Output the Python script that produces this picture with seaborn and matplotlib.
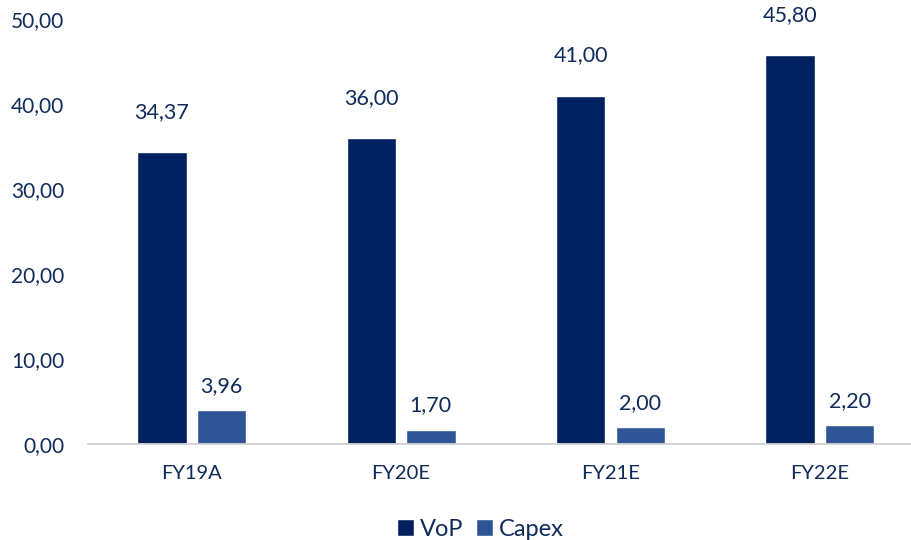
import matplotlib
matplotlib.use("Agg")
import matplotlib.pyplot as plt
import seaborn as sns
import pandas as pd

categories = ["FY19A", "FY20E", "FY21E", "FY22E"]
vop = [34.37, 36.00, 41.00, 45.80]
capex = [3.96, 1.70, 2.00, 2.20]
series_names = ["VoP", "Capex"]
yticks = [0, 10, 20, 30, 40, 50]

df = pd.DataFrame({
    "cat": categories * 2,
    "series": [series_names[0]] * 4 + [series_names[1]] * 4,
    "value": vop + capex,
})

sns.set_theme(style="white")
plt.rcParams["font.family"] = ["Lato", "DejaVu Sans"]
txt = "#0f2b5b"
colors = {"VoP": "#002060", "Capex": "#2f5597"}

fig = plt.figure(figsize=(9.12, 5.4), dpi=100)
ax = fig.add_axes([88/912, 96/540, (912-88)/912, (444-19)/540])
sns.barplot(data=df, x="cat", y="value", hue="series", palette=colors,
            width=0.569, gap=0.17, ax=ax, legend=True, saturation=1)

ax.set_ylim(0, 50)
ax.set_xlim(-0.495, 3.44)
ax.set_yticks(yticks)
ax.set_yticklabels([f"{v:.2f}".replace(".", ",") for v in yticks], fontsize=15, color=txt)
ax.set_xticklabels(categories, fontsize=14.5, color=txt)
ax.tick_params(axis="y", length=0, pad=17)
ax.tick_params(axis="x", length=0, pad=15)
ax.set_xlabel("")
ax.set_ylabel("")
for s in ["top", "right", "left"]:
    ax.spines[s].set_visible(False)
ax.spines["bottom"].set_color("#d0d0d0")
ax.spines["bottom"].set_linewidth(1.3)

offsets = {"VoP": 40, "Capex": 24}
for cont, name in zip(ax.containers, series_names):
    for bar in cont:
        h = bar.get_height()
        ax.annotate(f"{h:.2f}".replace(".", ","),
                    (bar.get_x() + bar.get_width() / 2, h),
                    xytext=(0, offsets[name]), textcoords="offset pixels",
                    ha="center", va="center", fontsize=15.5, color=txt)

leg = ax.legend(loc="center", bbox_to_anchor=(0.476, -0.2), ncol=2, frameon=False,
                fontsize=17, handlelength=0.7, handleheight=0.7, handletextpad=0.25,
                columnspacing=0.55)
for t in leg.get_texts():
    t.set_color(txt)

fig.savefig("out.png", dpi=100)
